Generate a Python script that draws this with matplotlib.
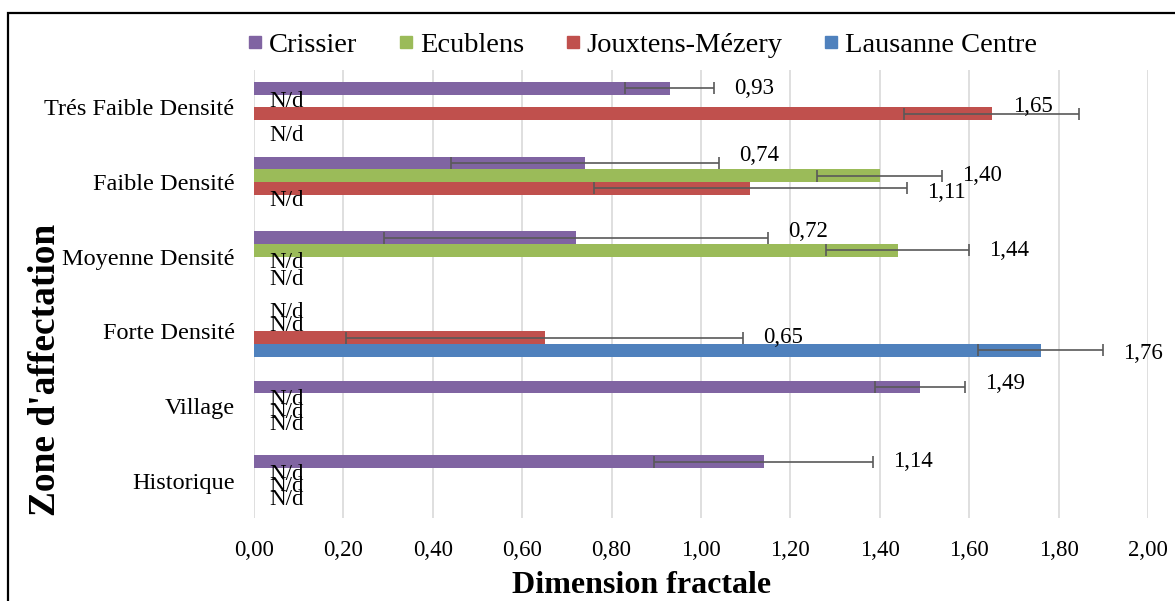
import numpy as np
import matplotlib
matplotlib.use("Agg")
import matplotlib.pyplot as plt
from matplotlib.lines import Line2D
from matplotlib.patches import Rectangle

plt.rcParams['font.family'] = ['Liberation Serif', 'DejaVu Serif']

categories = ['Trés Faible Densité', 'Faible Densité', 'Moyenne Densité',
              'Forte Densité', 'Village', 'Historique']
series = ['Crissier', 'Ecublens', 'Jouxtens-Mézery', 'Lausanne Centre']
colors = ['#8064A2', '#9BBB59', '#C0504D', '#4F81BD']

nan = np.nan
crissier = [0.93, 0.74, 0.72, nan, 1.49, 1.14]
crissier_err = [0.10, 0.30, 0.43, nan, 0.10, 0.245]
ecublens = [nan, 1.40, 1.44, nan, nan, nan]
ecublens_err = [nan, 0.14, 0.16, nan, nan, nan]
jouxtens = [1.65, 1.11, nan, 0.65, nan, nan]
jouxtens_err = [0.195, 0.35, nan, 0.445, nan, nan]
lausanne = [nan, nan, nan, 1.76, nan, nan]
lausanne_err = [nan, nan, nan, 0.14, nan, nan]

values = [crissier, ecublens, jouxtens, lausanne]
errors = [crissier_err, ecublens_err, jouxtens_err, lausanne_err]

# label tweaks: (category, series) -> (dx in data units, dy in pixels, + is down)
label_nudge = {
    (0, 2): (-0.193, -7),
    (0, 3): (0.0, 9),
    (1, 0): (0.0, -8),
    (1, 2): (0.0, 4),
    (2, 0): (0.0, -6),
    (2, 3): (0.0, 4),
    (3, 3): (0.0, 3),
    (4, 0): (0.0, -4),
}

fig = plt.figure(figsize=(11.75, 6.01), dpi=100)
ax = fig.add_axes([254 / 1175, 1 - 518 / 601, 894 / 1175, 448 / 601])

h = 0.169
ypos = np.arange(len(categories))
for i, name in enumerate(series):
    y = ypos - 1.5 * h + i * h
    vals = np.array(values[i], dtype=float)
    errs = np.array(errors[i], dtype=float)
    ax.barh(y, np.nan_to_num(vals), height=h, color=colors[i], zorder=2)
    ax.errorbar(vals, y, xerr=errs, fmt='none', ecolor='#595959',
                elinewidth=1.2, capsize=4.5, capthick=1.2, zorder=3)
    for j in range(len(categories)):
        dx, dy = label_nudge.get((j, i), (0.0, 0))
        if np.isnan(vals[j]):
            txt = 'N/d'
            x = 0.035
        else:
            txt = f'{vals[j]:.2f}'.replace('.', ',')
            x = vals[j] + errs[j] + 0.045 + dx
        ax.annotate(txt, (x, y[j]), xytext=(0, -dy * 0.72),
                    textcoords='offset points', ha='left', va='center',
                    fontsize=16.5, zorder=4, annotation_clip=False)

ax.set_xlim(0, 2.0)
ax.set_ylim(5.5, -0.5)
ax.set_xticks(np.arange(0, 2.01, 0.2))
ax.set_xticklabels([f'{t:.2f}'.replace('.', ',') for t in np.arange(0, 2.01, 0.2)],
                   fontsize=16.5)
ax.set_yticks(ypos)
ax.set_yticklabels(categories, fontsize=17.5)
ax.tick_params(axis='x', length=0, pad=16)
ax.tick_params(axis='y', length=0, pad=14)
ax.grid(axis='x', color='#d9d9d9', linewidth=1.2, zorder=0)
ax.set_axisbelow(True)
for s in ax.spines.values():
    s.set_visible(False)

ax.set_xlabel('Dimension fractale', fontsize=23, fontweight='bold', va='center')
ax.xaxis.set_label_coords(0.433, -0.15)
ax.set_ylabel("Zone d'affectation", fontsize=27, fontweight='bold', va='center')
ax.yaxis.set_label_coords(-0.233, 0.33)

handles = [Line2D([], [], marker='s', linestyle='', markersize=9,
                  color=c) for c in colors]
fig.legend(handles, series, loc='center', bbox_to_anchor=(0.545, 0.925),
           ncol=4, frameon=False, fontsize=20.5, handletextpad=0.1,
           columnspacing=1.3, handlelength=0.8)

fig.add_artist(Rectangle((8 / 1175, -0.1), 1.2, 1 - 13 / 601 + 0.1,
                         transform=fig.transFigure, fill=False,
                         edgecolor='black', linewidth=1.6))

fig.savefig('out.png', dpi=100)
